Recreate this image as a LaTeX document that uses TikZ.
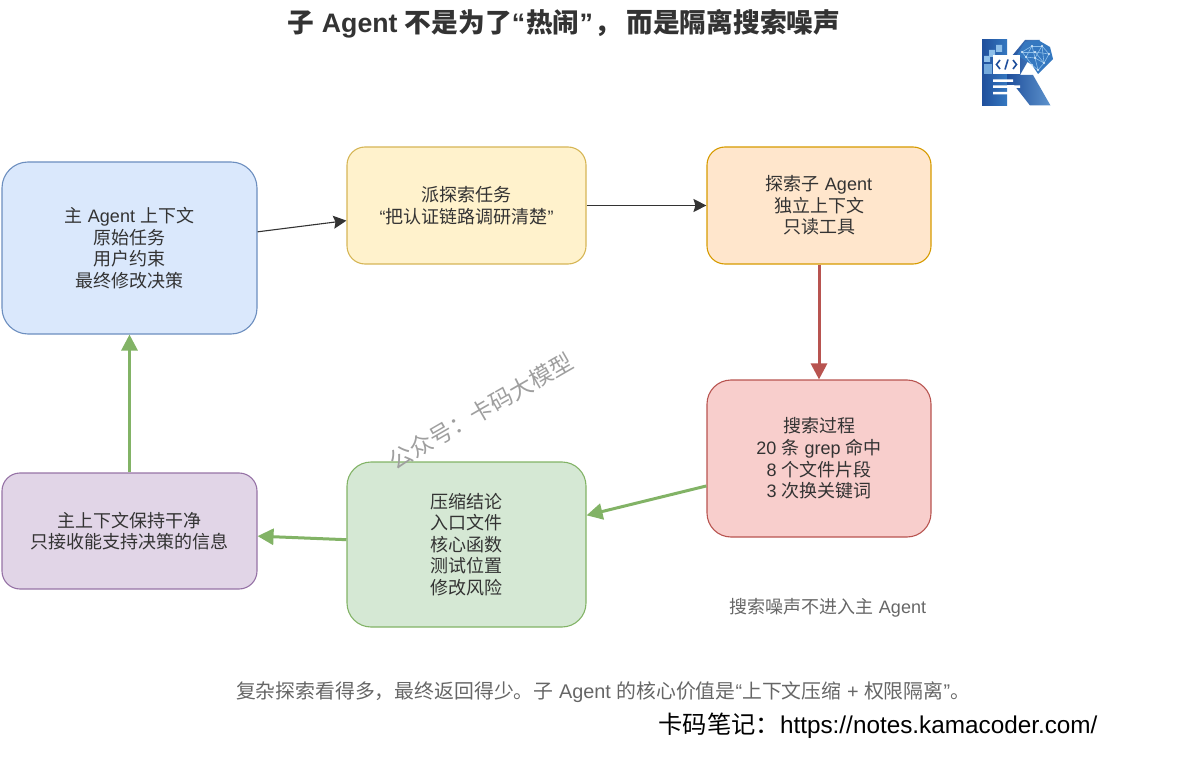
\documentclass[tikz,border=0pt]{standalone}
\usepackage{fontspec}
\setmainfont{Noto Sans CJK SC}
\newfontfamily\latinfont{Liberation Sans}
\newcommand{\la}[1]{{\latinfont #1}}
\usetikzlibrary{arrows.meta}
\definecolor{darktext}{HTML}{333333}
\definecolor{graytext}{HTML}{666666}
\definecolor{logoblue}{HTML}{1F4F9C}
\definecolor{logomid}{HTML}{3578C0}
\definecolor{logolight}{HTML}{8FC0EA}
\definecolor{mainfill}{HTML}{DAE8FC}
\definecolor{mainline}{HTML}{6C8EBF}
\definecolor{taskfill}{HTML}{FFF2CC}
\definecolor{taskline}{HTML}{D6B656}
\definecolor{subfill}{HTML}{FFE6CC}
\definecolor{subline}{HTML}{D79B00}
\definecolor{noisefill}{HTML}{F8CECC}
\definecolor{noiseline}{HTML}{B85450}
\definecolor{sumfill}{HTML}{D5E8D4}
\definecolor{sumline}{HTML}{82B366}
\definecolor{cleanfill}{HTML}{E1D5E7}
\definecolor{cleanline}{HTML}{9673A6}
\tikzset{
  box/.style={draw, rounded corners=#1, line width=1.1pt, align=center, inner sep=0pt,
    text=darktext, font=\fontsize{18}{21.6}\selectfont},
  link/.style={draw=darktext, line width=1.1pt, -{Stealth[length=13pt,width=13pt,inset=2pt]}},
  fatlink/.style={line width=3pt, -{Triangle[length=16pt,width=16pt]}},
  note/.style={text=graytext, inner sep=0pt, font=\fontsize{18}{21}\selectfont},
}
\begin{document}
\begin{tikzpicture}[x=1pt, y=-1pt]
\useasboundingbox (0,0) rectangle (1179,757);

\node[box=26pt, fill=mainfill, draw=mainline, minimum width=255pt, minimum height=172pt] (main) at (129.5,248)
  {主\la{ Agent }上下文\\原始任务\\用户约束\\最终修改决策};
\node[box=18pt, fill=taskfill, draw=taskline, minimum width=239pt, minimum height=117pt] (dispatch) at (466.5,205.5)
  {派探索任务\\\la{“}把认证链路调研清楚\la{”}};
\node[box=18pt, fill=subfill, draw=subline, minimum width=224pt, minimum height=117pt] (explore) at (819,205.5)
  {探索子\la{ Agent}\\独立上下文\\只读工具};
\node[box=24pt, fill=noisefill, draw=noiseline, minimum width=224pt, minimum height=157pt] (search) at (819,458.5)
  {搜索过程\\\la{20 }条\la{ grep }命中\\\la{8 }个文件片段\\\la{3 }次换关键词};
\node[box=24pt, fill=sumfill, draw=sumline, minimum width=239pt, minimum height=165pt] (compress) at (466.5,544.5)
  {压缩结论\\入口文件\\核心函数\\测试位置\\修改风险};
\node[box=18pt, fill=cleanfill, draw=cleanline, minimum width=255pt, minimum height=116pt] (clean) at (129.5,531)
  {主上下文保持干净\\只接收能支持决策的信息};

\draw[link] (main) -- (dispatch);
\draw[link] (dispatch) -- (explore);
\draw[fatlink, draw=noiseline] (explore) -- (search);
\draw[fatlink, draw=sumline] (search) -- (compress);
\draw[fatlink, draw=sumline] (compress) -- (clean);
\draw[fatlink, draw=sumline] (clean) -- (main);

\node[inner sep=0pt, text=darktext, font=\fontsize{26.7}{30}\bfseries\selectfont] (title) at (564,24)
  {子\la{ Agent }不是为了\la{“}\hspace{1pt}热闹\la{”}\hspace{2pt}，\hspace{5pt}而是隔离搜索噪声};
\node[note, text=gray!75, rotate=30, font=\fontsize{23}{26}\selectfont] (mark) at (481,411) {公众号：卡码大模型};
\node[note] (noise) at (828,607.5) {搜索噪声不进入主\la{ Agent}};
\node[note, font=\fontsize{19.85}{24}\selectfont] (summary) at (603,692)
  {复杂探索看得多，最终返回得少。子\la{ Agent }的核心价值是\la{“}上下文压缩\la{ + }权限隔离\la{”}。};
\node[inner sep=0pt, font=\fontsize{24.3}{28}\selectfont] (site) at (878,726) {卡码笔记：\la{https://notes.kamacoder.com/}};

\shade[left color=logoblue, right color=logomid] (982,40) rectangle (1007,105.5);
\shade[left color=logoblue, right color=logomid!80!white] (1007,62) -- (1025,40) -- (1040,40) -- (1020,75) -- (1033,75) -- (1050.5,105.5) -- (1030,105.5) -- (1014,85) -- (1007,85) -- cycle;
\fill[logomid] (1017,55) -- (1025,42) -- (1038,40) -- (1050,47) -- (1053,59) -- (1045,67) -- (1038,74) -- (1032,65) -- cycle;
\foreach \ax/\ay/\bx/\by in {1022/52/1032/46, 1032/46/1042/46, 1042/46/1049/54, 1049/54/1044/63, 1044/63/1035/58, 1035/58/1026/57, 1026/57/1022/52, 1032/46/1035/58, 1042/46/1035/58, 1035/58/1038/70, 1044/63/1038/70, 1042/46/1044/63, 1022/52/1035/52, 1035/52/1049/54, 1032/46/1026/57, 1035/52/1044/63, 1026/57/1032/65, 1032/65/1038/70}
  \draw[logolight, line width=0.6pt] (\ax,\ay) -- (\bx,\by);
\foreach \ax/\ay in {1022/52, 1032/46, 1042/46, 1049/54, 1044/63, 1035/58, 1026/57, 1038/70, 1035/52, 1032/65}
  \fill[white!70!logolight] (\ax,\ay) circle (1.2pt);
\fill[logolight] (996,45) rectangle (1002,52) (989,50) rectangle (995,57) (984,56) rectangle (990,62);
\fill[logolight!70!logomid] (984,64) rectangle (992,74);
\fill[white] (993,55) rectangle (1020,74);
\fill[white] (993,79.5) rectangle (1013,82) (993,85.5) rectangle (1020,88) (993,92) rectangle (1008,94.5);
\draw[logoblue, line width=1.6pt] (1000,60) -- (996.5,64.5) -- (1000,69) (1013,60) -- (1016.5,64.5) -- (1013,69) (1008,59.5) -- (1005,69.5);

\end{tikzpicture}
\end{document}
